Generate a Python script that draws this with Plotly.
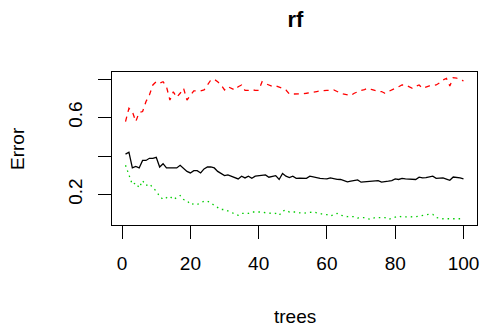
import plotly.graph_objects as go

trees = list(range(1, 101))

oob = [0.41, 0.42, 0.338, 0.346, 0.338, 0.377, 0.377, 0.388, 0.388, 0.393,
       0.343, 0.36, 0.338, 0.338, 0.338, 0.338, 0.352, 0.338, 0.32, 0.312,
       0.324, 0.324, 0.312, 0.333, 0.343, 0.343, 0.338, 0.32, 0.307, 0.298,
       0.302, 0.295, 0.286, 0.281, 0.295, 0.286, 0.295, 0.284, 0.295, 0.298,
       0.300, 0.302, 0.290, 0.295, 0.298, 0.278, 0.309, 0.295, 0.288, 0.295,
       0.284, 0.285, 0.284, 0.284, 0.295, 0.290, 0.287, 0.284, 0.282, 0.281,
       0.286, 0.281, 0.279, 0.278, 0.272, 0.266, 0.270, 0.272, 0.276, 0.264,
       0.266, 0.269, 0.269, 0.271, 0.272, 0.264, 0.268, 0.269, 0.272, 0.281,
       0.278, 0.284, 0.281, 0.281, 0.279, 0.278, 0.290, 0.286, 0.288, 0.290,
       0.295, 0.284, 0.285, 0.286, 0.280, 0.274, 0.291, 0.290, 0.286, 0.281]

class1 = [0.579, 0.648, 0.631, 0.579, 0.626, 0.631, 0.683, 0.717, 0.769, 0.786,
          0.778, 0.786, 0.76, 0.691, 0.734, 0.705, 0.726, 0.752, 0.691, 0.717,
          0.738, 0.738, 0.738, 0.743, 0.769, 0.795, 0.798, 0.786, 0.769, 0.743,
          0.76, 0.752, 0.743, 0.760, 0.769, 0.741, 0.741, 0.745, 0.741, 0.741,
          0.786, 0.776, 0.769, 0.762, 0.765, 0.76, 0.752, 0.743, 0.722, 0.722,
          0.722, 0.722, 0.724, 0.726, 0.730, 0.732, 0.735, 0.738, 0.741, 0.741,
          0.741, 0.743, 0.735, 0.726, 0.722, 0.716, 0.714, 0.726, 0.735, 0.741,
          0.745, 0.752, 0.746, 0.741, 0.735, 0.735, 0.726, 0.735, 0.745, 0.752,
          0.760, 0.769, 0.769, 0.760, 0.752, 0.762, 0.769, 0.752, 0.760, 0.764,
          0.766, 0.769, 0.780, 0.795, 0.803, 0.764, 0.807, 0.805, 0.795, 0.791]

class2 = [0.352, 0.303, 0.252, 0.26, 0.235, 0.272, 0.247, 0.255, 0.235, 0.217,
          0.191, 0.174, 0.183, 0.191, 0.174, 0.183, 0.195, 0.174, 0.169, 0.148,
          0.152, 0.148, 0.157, 0.165, 0.165, 0.157, 0.143, 0.131, 0.122, 0.122,
          0.114, 0.105, 0.097, 0.092, 0.102, 0.102, 0.102, 0.109, 0.109, 0.109,
          0.109, 0.105, 0.102, 0.102, 0.102, 0.092, 0.114, 0.119, 0.109, 0.109,
          0.109, 0.105, 0.102, 0.105, 0.107, 0.109, 0.105, 0.100, 0.097, 0.095,
          0.088, 0.095, 0.102, 0.092, 0.088, 0.085, 0.085, 0.085, 0.078, 0.080,
          0.080, 0.074, 0.071, 0.080, 0.080, 0.080, 0.080, 0.071, 0.078, 0.085,
          0.088, 0.083, 0.083, 0.083, 0.083, 0.085, 0.088, 0.092, 0.095, 0.097,
          0.097, 0.080, 0.078, 0.074, 0.074, 0.074, 0.074, 0.074, 0.074, 0.074]

x_ticks = [0, 20, 40, 60, 80, 100]
y_ticks = [0.2, 0.4, 0.6, 0.8]
y_tick_labels = ["0.2", "", "0.6", ""]

# R-style 4% axis extension
xmin, xmax = min(trees), max(trees)
xpad = (xmax - xmin) * 0.04
allv = oob + class1 + class2
ymin, ymax = min(allv), max(allv)
ypad = (ymax - ymin) * 0.04

FONT = "Liberation Sans, Arial, Helvetica, sans-serif"

fig = go.Figure()
fig.add_trace(go.Scatter(x=trees, y=oob, mode="lines",
                         line=dict(color="black", width=1.3)))
fig.add_trace(go.Scatter(x=trees, y=class1, mode="lines",
                         line=dict(color="#FF0000", width=1.3, dash="5px,5px")))
fig.add_trace(go.Scatter(x=trees, y=class2, mode="lines",
                         line=dict(color="#00CD00", width=1.3, dash="1.5px,4px")))

fig.update_layout(
    width=485, height=328,
    margin=dict(l=112, r=6, t=72, b=103),
    paper_bgcolor="white", plot_bgcolor="white",
    showlegend=False,
    font=dict(family=FONT, color="black", size=19),
    title=dict(text="<b>rf</b>", x=(112 + 367 / 2) / 485, xanchor="center",
               y=1 - 19 / 328, yanchor="middle", yref="container",
               font=dict(size=22, family=FONT, color="black")),
)
fig.update_xaxes(range=[xmin - xpad, xmax + xpad], tickvals=x_ticks,
                 ticks="outside", ticklen=13, tickwidth=1, tickcolor="black",
                 showline=True, linecolor="black", linewidth=1, mirror=True,
                 showgrid=False, zeroline=False, ticklabelstandoff=8,
                 tickfont=dict(size=19))
fig.update_yaxes(range=[ymin - ypad, ymax + ypad], tickvals=y_ticks,
                 ticktext=y_tick_labels, tickangle=-90,
                 ticks="outside", ticklen=13, tickwidth=1, tickcolor="black",
                 showline=True, linecolor="black", linewidth=1, mirror=True,
                 showgrid=False, zeroline=False, ticklabelstandoff=8,
                 tickfont=dict(size=19))
fig.add_annotation(text="trees", xref="paper", yref="paper",
                   x=0.5, y=-(316 - 225) / 153, xanchor="center", yanchor="middle",
                   showarrow=False, font=dict(size=19, family=FONT))
fig.add_annotation(text="Error", xref="paper", yref="paper",
                   x=(17 - 112) / 367, y=0.5, xanchor="center", yanchor="middle",
                   textangle=-90, showarrow=False, font=dict(size=19, family=FONT))

fig.write_html("out.html", config={"displayModeBar": False},
               post_script="document.body.style.margin='0';document.body.style.padding='0';")
